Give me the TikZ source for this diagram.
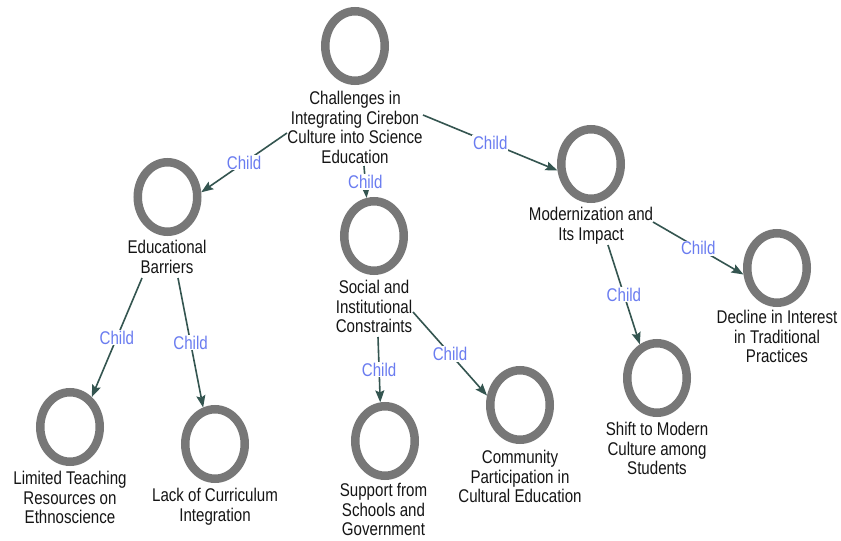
\documentclass[tikz,border=0pt]{standalone}
\usepackage{fontspec}
\setmainfont{Liberation Sans}[FakeStretch=0.82]
\usetikzlibrary{shapes.geometric,arrows.meta}
\definecolor{ringgray}{HTML}{777777}
\definecolor{edgecol}{HTML}{345550}
\definecolor{childblue}{HTML}{6A7CF0}
\definecolor{labeltext}{HTML}{151515}
\tikzset{
  ring/.style={ellipse, draw=ringgray, line width=8.5pt, minimum width=59.5pt,
    minimum height=69.5pt, inner sep=0pt},
  lbl/.style={anchor=north, align=center, inner sep=0pt, text=labeltext,
    font=\fontsize{18.4}{19.5}\selectfont},
  edge/.style={draw=edgecol, line width=1.6pt,
    -{Stealth[length=12pt,width=9pt,inset=2pt]}},
  childlbl/.style={fill=white, inner sep=1pt, text=childblue,
    font=\fontsize{18.4}{19.5}\selectfont}
}
\begin{document}
\begin{tikzpicture}[x=1pt,y=-1pt]
\useasboundingbox[fill=white] (0,0) rectangle (841,541);

% root
\node[ring] (top) at (355,46) {};
\node[lbl] (top-l) at (355,91.4) {Challenges in\\Integrating Cirebon\\Culture into Science\\Education};

% first level
\node[ring] (edu) at (167.5,197) {};
\node[lbl] (edu-l) at (167,240.4) {Educational\\Barriers};
\node[ring] (soc) at (374,236) {};
\node[lbl] (soc-l) at (374,280.4) {Social and\\Institutional\\Constraints};
\node[ring] (mod) at (591,164) {};
\node[lbl] (mod-l) at (591,207.4) {Modernization and\\Its Impact};

% second level
\node[ring] (lim) at (70,427) {};
\node[lbl] (lim-l) at (70,471.4) {Limited Teaching\\Resources on\\Ethnoscience};
\node[ring] (lack) at (215,444) {};
\node[lbl] (lack-l) at (215,488.4) {Lack of Curriculum\\Integration};
\node[ring] (sup) at (385,441) {};
\node[lbl] (sup-l) at (383.5,483.4) {Support from\\Schools and\\Government};
\node[ring] (com) at (520,405) {};
\node[lbl] (com-l) at (520,450.4) {Community\\Participation in\\Cultural Education};
\node[ring] (shift) at (657,378) {};
\node[lbl] (shift-l) at (657,422.4) {Shift to Modern\\Culture among\\Students};
\node[ring] (dec) at (777,268) {};
\node[lbl] (dec-l) at (777,310.4) {Decline in Interest\\in Traditional\\Practices};

% connectors
\draw[edge] ([shift={(-68pt,-41.6pt)}]top-l.north) -- node[childlbl]{Child} (edu.8);
\draw[edge] ([shift={(9pt,-74.6pt)}]top-l.north) -- node[childlbl]{Child} (soc.101);
\draw[edge] ([shift={(68pt,-23.6pt)}]top-l.north) -- node[childlbl]{Child} (mod.191);
\draw[edge] ([shift={(-25pt,-37.6pt)}]edu-l.north) -- node[childlbl]{Child} (lim.54);
\draw[edge] ([shift={(11pt,-37.6pt)}]edu-l.north) -- node[childlbl]{Child} (lack.108);
\draw[edge] ([shift={(4pt,-56.6pt)}]soc-l.north) -- node[childlbl]{Child} (sup.97);
\draw[edge] ([shift={(39pt,-31.6pt)}]soc-l.north) -- node[childlbl]{Child} (com.164);
\draw[edge] ([shift={(17pt,-37.6pt)}]mod-l.north) -- node[childlbl]{Child} (shift.117);
\draw[edge] ([shift={(62pt,-14.6pt)}]mod-l.north) -- node[childlbl]{Child} (dec.191);
\end{tikzpicture}
\end{document}
